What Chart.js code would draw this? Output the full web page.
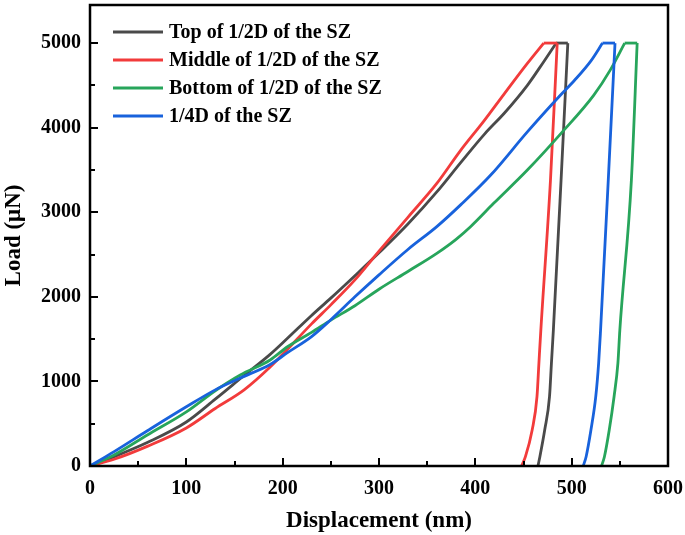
<!DOCTYPE html>
<html>
<head>
<meta charset="utf-8">
<script src="https://cdn.jsdelivr.net/npm/chart.js@4/dist/chart.umd.min.js"></script>
<style>
  html, body { margin: 0; padding: 0; background: #fff; }
  #wrap { width: 685px; height: 535px; }
</style>
</head>
<body>
<div id="wrap"><canvas id="chart" width="685" height="535"></canvas></div>
<script>
// load-displacement curves (nm, uN)
const topX = [0, 25, 60, 100, 130, 160, 187, 205, 230, 250, 275, 300, 330, 360, 385, 410, 430, 454, 471, 484, 496, 489, 481, 479, 477, 472, 467, 465];
const topY = [0, 110, 280, 520, 790, 1070, 1320, 1510, 1780, 1985, 2250, 2520, 2860, 3240, 3590, 3930, 4170, 4500, 4780, 5000, 5000, 3380, 1607, 1217, 819, 425, 110, 0];

const midX = [0, 25, 60, 100, 130, 160, 187, 205, 230, 250, 275, 300, 330, 360, 384, 409, 430, 454, 471, 485, 478, 468, 466, 464, 459, 452, 448];
const midY = [0, 80, 235, 450, 680, 900, 1170, 1380, 1680, 1905, 2200, 2540, 2940, 3340, 3720, 4080, 4400, 4760, 5000, 5000, 3380, 1607, 1217, 819, 425, 110, 0];

const botX = [0, 25, 60, 100, 130, 156, 187, 205, 230, 250, 275, 300, 330, 360, 380, 395, 419, 454, 489, 523, 540, 555, 568, 562, 550, 548, 544, 539, 534, 531];
const botY = [0, 130, 370, 640, 890, 1076, 1253, 1410, 1580, 1725, 1895, 2090, 2300, 2514, 2680, 2829, 3105, 3499, 3933, 4385, 4680, 5000, 5000, 3380, 1607, 1217, 819, 425, 110, 0];

const quarterX = [0, 25, 60, 100, 130, 156, 187, 205, 230, 250, 275, 300, 330, 360, 385, 416, 454, 488, 503, 520, 532, 545, 538, 530, 528, 525, 520, 515, 512];
const quarterY = [0, 170, 420, 700, 900, 1040, 1200, 1340, 1530, 1730, 2000, 2260, 2560, 2830, 3090, 3440, 3950, 4380, 4560, 4790, 5000, 5000, 3380, 1607, 1217, 819, 425, 110, 0];

const seriesLabels = ["Top of 1/2D of the SZ", "Middle of 1/2D of the SZ", "Bottom of 1/2D of the SZ", "1/4D of the SZ"];
const seriesColors = ["#4a4a4a", "#f23b3b", "#27a55b", "#1862dc"];

const xTicks = [0, 100, 200, 300, 400, 500, 600];
const yTicks = [0, 1000, 2000, 3000, 4000, 5000];

const FONT = "'Liberation Serif', 'Times New Roman', serif";

function toPoints(xs, ys) {
    return xs.map((x, i) => ({ x: x, y: ys[i] }));
}

const allX = [topX, midX, botX, quarterX];
const allY = [topY, midY, botY, quarterY];

// each curve is split into loading, hold and unloading parts so the corners stay sharp
let datasets = [];
seriesLabels.forEach((label, i) => {
    let pts = toPoints(allX[i], allY[i]);
    let first = allY[i].indexOf(5000);
    let last = allY[i].lastIndexOf(5000);
    let parts = [
        { data: pts.slice(0, first + 1), mode: 'monotone' },
        { data: pts.slice(first, last + 1), mode: 'default' },
        { data: pts.slice(last), mode: 'monotone' }
    ];
    parts.forEach((p) => {
        datasets.push({
            label: label,
            data: p.data,
            borderColor: seriesColors[i],
            backgroundColor: seriesColors[i],
            borderWidth: 2.8,
            pointRadius: 0,
            tension: 0,
            cubicInterpolationMode: p.mode,
            fill: false,
            order: 4 - i
        });
    });
});

// frame, inward ticks and the legend inside the plot
const framePlugin = {
    id: 'frame',
    afterDraw(chart) {
        const ctx = chart.ctx;
        const a = chart.chartArea;
        const xs = chart.scales.x;
        const ys = chart.scales.y;
        ctx.save();
        ctx.strokeStyle = '#000';
        ctx.lineWidth = 2.5;
        ctx.strokeRect(a.left, a.top, a.right - a.left, a.bottom - a.top);

        ctx.lineWidth = 2;
        ctx.beginPath();
        for (let v = 0; v <= 600; v += 50) {
            const px = Math.round(xs.getPixelForValue(v));
            const len = (v % 100 == 0) ? 8 : 5;
            ctx.moveTo(px, a.bottom);
            ctx.lineTo(px, a.bottom - len);
        }
        for (let v = 0; v <= 5000; v += 500) {
            const py = Math.round(ys.getPixelForValue(v));
            const len = (v % 1000 == 0) ? 8 : 5;
            ctx.moveTo(a.left, py);
            ctx.lineTo(a.left + len, py);
        }
        ctx.stroke();

        // legend
        ctx.font = "bold 20px " + FONT;
        ctx.textBaseline = 'middle';
        ctx.textAlign = 'left';
        seriesLabels.forEach((label, i) => {
            const y = 32 + i * 28;
            ctx.strokeStyle = seriesColors[i];
            ctx.lineWidth = 3;
            ctx.beginPath();
            ctx.moveTo(113, y);
            ctx.lineTo(163, y);
            ctx.stroke();
            ctx.fillStyle = '#000';
            ctx.fillText(label, 169, y + 1);
        });
        ctx.restore();
    }
};

new Chart(document.getElementById('chart'), {
    type: 'line',
    data: { datasets: datasets },
    options: {
        responsive: false,
        animation: false,
        layout: { padding: { left: 0, right: 17, top: 5, bottom: 0 } },
        plugins: {
            legend: { display: false },
            tooltip: { enabled: false }
        },
        scales: {
            x: {
                type: 'linear',
                min: 0,
                max: 600,
                afterFit: (scale) => {
                    scale.height = 69;
                    scale.paddingLeft = 0;
                    scale.paddingRight = 0;
                },
                afterBuildTicks: (scale) => { scale.ticks = xTicks.map(v => ({ value: v })); },
                grid: { display: false, drawTicks: false },
                border: { display: false },
                ticks: {
                    padding: 11,
                    color: '#000',
                    callback: (v) => String(v),
                    font: { family: FONT, size: 20, weight: 'bold' }
                },
                title: {
                    display: true,
                    text: 'Displacement (nm)',
                    color: '#000',
                    padding: { top: 0, bottom: 0 },
                    font: { family: FONT, size: 23, weight: 'bold' }
                }
            },
            y: {
                type: 'linear',
                min: 0,
                max: 5450,
                afterFit: (scale) => {
                    scale.width = 90;
                    scale.paddingTop = 0;
                    scale.paddingBottom = 0;
                },
                afterBuildTicks: (scale) => { scale.ticks = yTicks.map(v => ({ value: v })); },
                grid: { display: false, drawTicks: false },
                border: { display: false },
                ticks: {
                    padding: 9,
                    color: '#000',
                    callback: (v) => String(v),
                    font: { family: FONT, size: 20, weight: 'bold' }
                },
                title: {
                    display: true,
                    text: 'Load (μN)',
                    color: '#000',
                    padding: { top: 0, bottom: 1 },
                    font: { family: FONT, size: 23, weight: 'bold' }
                }
            }
        }
    },
    plugins: [framePlugin]
});
</script>
</body>
</html>
